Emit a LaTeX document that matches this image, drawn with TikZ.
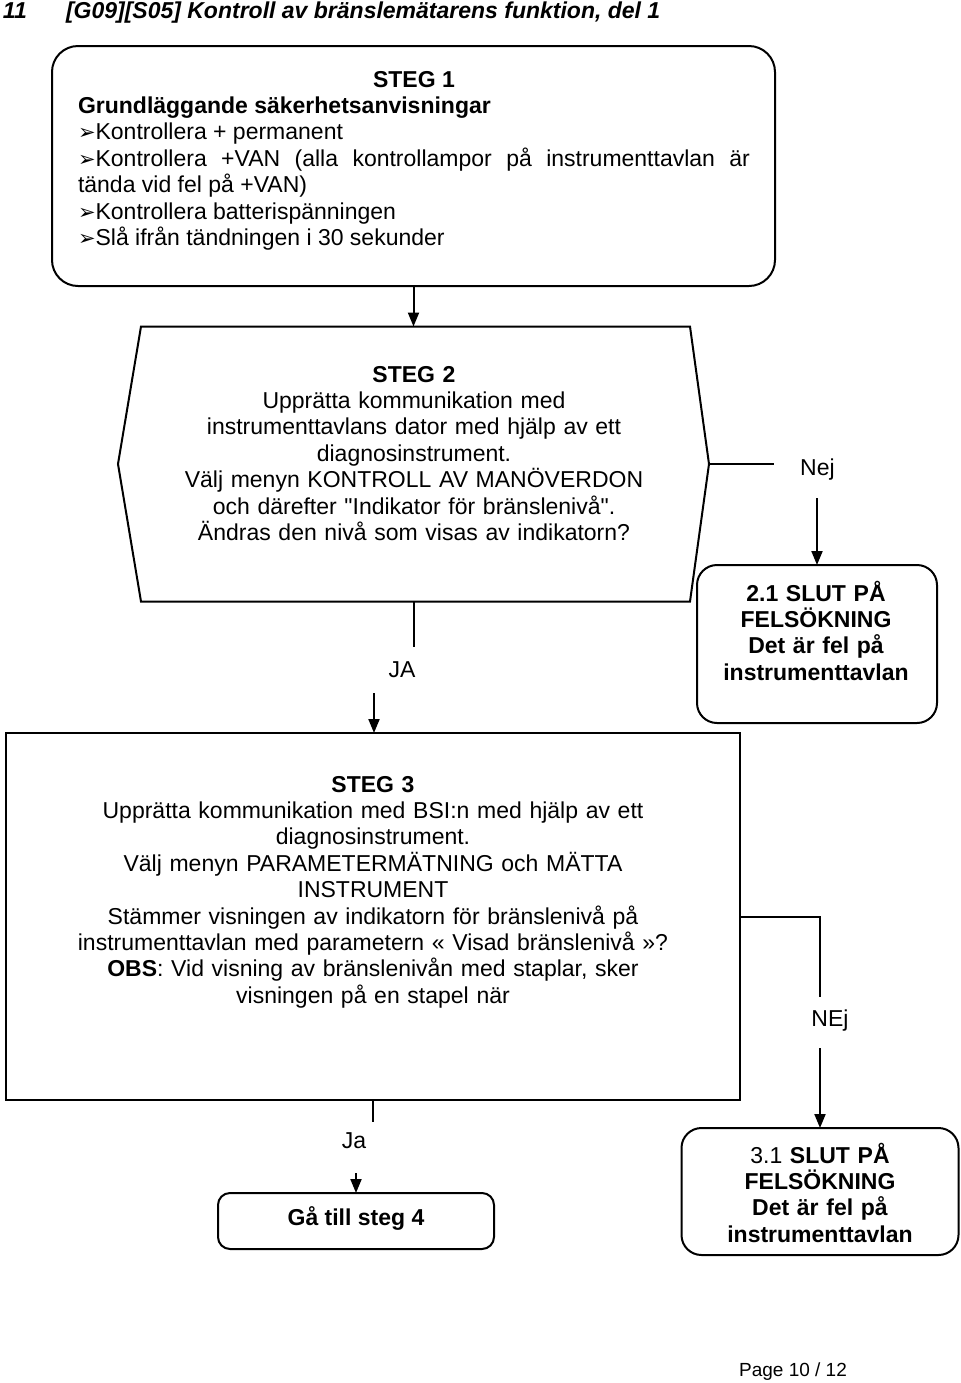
\documentclass[tikz,border=0pt]{standalone}
\usepackage{fontspec}
\setmainfont{Liberation Sans}[Ligatures=TeXOff]
\newfontfamily\symfont{DejaVu Sans}
\usetikzlibrary{arrows.meta,calc}
\setlength\parindent{0pt}
\newcommand{\blt}{{\symfont\fontsize{10.5}{10}\selectfont ➢}}
\begin{document}
\begin{tikzpicture}[x=0.5pt,y=-0.5pt,
  every node/.style={font=\fontsize{11.5}{13.2}\selectfont, inner sep=0pt, outer sep=0pt},
  lin/.style={line width=1pt},
  arr/.style={line width=1pt,-{Triangle[length=7pt,width=5.5pt]}},
  rbox/.style={draw,line width=1pt,rounded corners=#1,rectangle},
  lbl/.style={anchor=base},
  txt/.style={anchor=base, align=center, text width=#1},
]
\useasboundingbox (0,0) rectangle (960,1383);

% title
\node[anchor=base west] (num) at (3,18) {\bfseries\itshape 11};
\node[anchor=base west] (title) at (66,18) {\bfseries\itshape [G09][S05] Kontroll av bränslemätarens funktion, del 1};

% STEG 1
\node[rbox=13pt, minimum width=361.5pt, minimum height=120pt] (s1) at (413.5,166) {};
\node[anchor=base west, text width=336pt, align=justify] (s1t) at (78,87) {%
{\centering\bfseries STEG 1\par}
{\bfseries Grundläggande säkerhetsanvisningar\par}
\blt Kontrollera + permanent\par
\blt Kontrollera +VAN (alla kontrollampor på instrumenttavlan är\linebreak tända vid fel på +VAN)\par
\blt Kontrollera batterispänningen\par
\blt Slå ifrån tändningen i 30 sekunder\par};

% STEG 2
\node[minimum width=274.5pt, minimum height=137.5pt] (s2) at (415.5,464) {};
\draw[lin] (s2.north west) -- (s2.north east) -- ([xshift=9.5pt]s2.east) -- (s2.south east)
  -- (s2.south west) -- ([xshift=-11.5pt]s2.west) -- cycle;
\node[txt=260pt] (s2t) at (414,382) {\textbf{STEG 2}\\
Upprätta kommunikation med\\
instrumenttavlans dator med hjälp av ett\\
diagnosinstrument.\\
Välj menyn KONTROLL AV MANÖVERDON\\
och därefter "Indikator för bränslenivå".\\
Ändras den nivå som visas av indikatorn?};
\draw[arr] (s1.south) -- (s1.south |- s2.north);

% 2.1
\node[rbox=10pt, minimum width=120pt, minimum height=79pt] (s21) at (817,644) {};
\node[txt=118pt] (s21t) at (816,601) {\bfseries 2.1 SLUT PÅ\\FELSÖKNING\\Det är fel på\\instrumenttavlan};

% Nej connector
\coordinate (s2r) at ($(s2.east)+(19,0)$);
\coordinate (nejA) at ($(s2r)+(65,0)$);
\draw[lin] (s2r) -- (nejA);
\node[lbl] (nej) at (817.5,475) {Nej};
\coordinate (nejB) at (817,498);
\draw[arr] (nejB) -- (s21.north);

% STEG 3
\node[draw, line width=1pt, minimum width=367pt, minimum height=183.5pt] (s3) at (373,916.5) {};
\node[txt=345pt] (s3t) at (373,792) {\textbf{STEG 3}\\
Upprätta kommunikation med BSI:n med hjälp av ett\\
diagnosinstrument.\\
Välj menyn PARAMETERMÄTNING och MÄTTA\\
INSTRUMENT\\
Stämmer visningen av indikatorn för bränslenivå på\\
instrumenttavlan med parametern « Visad bränslenivå »?\\
\textbf{OBS}: Vid visning av bränslenivån med staplar, sker\\
visningen på en stapel när};

% JA connector
\coordinate (jaA) at (414,647);
\draw[lin] (jaA |- s2.south) -- (jaA);
\node[lbl] (ja) at (402,677) {JA};
\coordinate (jaB) at (374,693);
\draw[arr] (jaB) -- (jaB |- s3.north);

% 3.1
\node[rbox=10pt, minimum width=138.5pt, minimum height=63.5pt] (s31) at (820,1191.5) {};
\node[txt=136pt] (s31t) at (820,1163) {3.1 \textbf{SLUT PÅ}\\\textbf{FELSÖKNING}\\\textbf{Det är fel på}\\\textbf{instrumenttavlan}};

% NEj connector
\coordinate (nejC) at (820,997);
\draw[lin] (s3.east) -| (nejC);
\node[lbl] (nej2) at (830,1026) {NEj};
\coordinate (nejD) at (820,1048);
\draw[arr] (nejD) -- (s31.north);

% Gå till steg 4
\node[rbox=6pt, minimum width=138pt, minimum height=28pt] (g4) at (356,1221) {};
\node[lbl] (g4t) at (356,1225) {\bfseries Gå till steg 4};

% Ja connector
\coordinate (ja2A) at (373,1122);
\draw[lin] (s3.south) -- (ja2A);
\node[lbl] (ja2) at (354,1148) {Ja};
\coordinate (ja2B) at (356,1173);
\draw[arr] (ja2B) -- (g4.north);

% page
\node[lbl, font=\fontsize{9.5}{11}\selectfont] (page) at (793,1376) {Page 10 / 12};
\end{tikzpicture}
\end{document}
